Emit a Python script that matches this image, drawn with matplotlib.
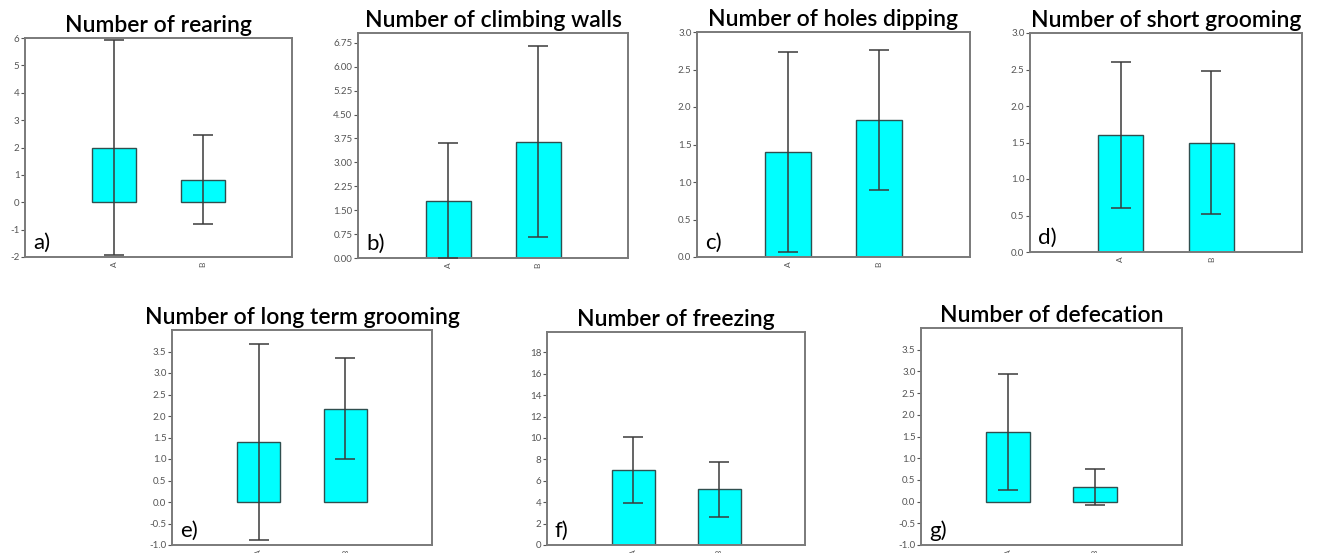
import numpy as np
import matplotlib.pyplot as plt

plt.rcParams['font.family'] = ['Lato', 'DejaVu Sans']

groups = ['A', 'B']
titles = ['Number of rearing', 'Number of climbing walls', 'Number of holes dipping',
          'Number of short grooming', 'Number of long term grooming',
          'Number of freezing', 'Number of defecation']
letters = ['a)', 'b)', 'c)', 'd)', 'e)', 'f)', 'g)']

# means and standard deviations for groups A and B
means = [[2.0, 0.83], [1.8, 3.65], [1.4, 1.83], [1.6, 1.5],
         [1.4, 2.17], [7.0, 5.2], [1.6, 0.33]]
sds = [[3.93, 1.64], [1.8, 2.99], [1.33, 0.93], [1.0, 0.98],
       [2.28, 1.18], [3.1, 2.6], [1.33, 0.41]]

ylims = [(-2, 6), (0, 7.06), (0, 3), (0, 3), (-1, 4.0), (0, 19.9), (-1, 4.0)]
yticks = [np.arange(-2, 7, 1), np.arange(0, 7, 0.75), np.arange(0, 3.01, 0.5),
          np.arange(0, 3.01, 0.5), np.arange(-1, 3.6, 0.5), np.arange(0, 19, 2),
          np.arange(-1, 3.6, 0.5)]
tick_fmt = ['{:.0f}', '{:.2f}', '{:.1f}', '{:.1f}', '{:.1f}', '{:.0f}', '{:.1f}']

# axes boxes in pixels: left, right, top, bottom
boxes = [(25, 292, 38, 257), (358, 628, 33, 258), (697, 970, 32, 257),
         (1030, 1302, 33, 252), (172, 432, 330, 545), (547, 805, 332, 545),
         (921, 1182, 328, 545)]

W, H = 1317, 553
fig = plt.figure(figsize=(W / 100, H / 100), dpi=100)

for i in range(7):
    l, r, t, b = boxes[i]
    ax = fig.add_axes([l / W, (H - b) / H, (r - l) / W, (b - t) / H])
    x = np.arange(1, len(groups) + 1)
    ax.bar(x, means[i], width=0.5, color='#00ffff', edgecolor='#2f4f4f',
           linewidth=1.0, zorder=2)
    ax.errorbar(x, means[i], yerr=sds[i], fmt='none', ecolor='#3a3a3a',
                elinewidth=1.1, capsize=7, capthick=1.1, zorder=3)
    ax.set_xlim(0, 3)
    ax.set_ylim(*ylims[i])
    ax.set_yticks(yticks[i])
    ax.set_yticklabels([tick_fmt[i].format(v) for v in yticks[i]])
    ax.set_xticks(x)
    ax.set_xticklabels(groups, rotation=90)
    ax.tick_params(axis='y', labelsize=7, colors='#555555', length=3, width=0.8, pad=1)
    ax.tick_params(axis='x', labelsize=6, colors='#555555', length=0, pad=3)
    for s in ax.spines.values():
        s.set_color('#7a7a7a')
        s.set_linewidth(1.4)
    ax.set_title(titles[i], fontsize=16.5, fontweight='semibold', color='black', pad=4)
    ax.text(0.03, 0.02, letters[i], transform=ax.transAxes, fontsize=16,
            ha='left', va='bottom', color='black')

fig.savefig('out.png', dpi=100)
